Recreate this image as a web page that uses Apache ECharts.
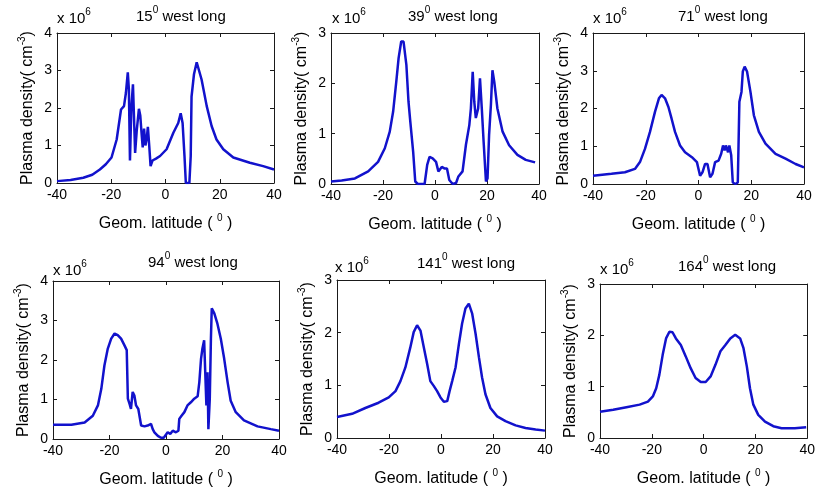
<!DOCTYPE html>
<html><head><meta charset="utf-8">
<script src="https://cdn.jsdelivr.net/npm/echarts@6/dist/echarts.min.js"></script>
<style>html,body{margin:0;padding:0;background:#fff}#c{width:818px;height:492px}</style>
</head><body><div id="c"></div>
<script>
// ---------- data ----------
const longitudes = ['15', '39', '71', '94', '141', '164'];
const xTicks = [-40, -20, 0, 20, 40];
const yTicks4 = [0, 1, 2, 3, 4];
const yTicks3 = [0, 1, 2, 3];

const lat1 = [-40, -35, -30.3, -27, -24.2, -22, -19.9, -18, -16.4, -15.3, -14.6, -13.9, -13.5, -13.1, -12.6, -12.0, -11.5, -11.2, -10.6, -9.8, -9.3, -8.8, -8.4, -7.9, -7.4, -6.9, -6.5, -6.0, -5.5, -4.8, -3.5, -2.0, 0.4, 2.9, 4.7, 5.6, 6.3, 7.0, 7.5, 8.8, 9.3, 9.6, 10.5, 11.5, 12.2, 13.3, 15.2, 17, 18.8, 21.3, 25, 31.1, 36, 40];
const dens1 = [0.05, 0.08, 0.14, 0.22, 0.36, 0.5, 0.68, 1.16, 1.96, 2.05, 2.4, 2.95, 2.5, 0.6, 2.0, 2.63, 1.5, 0.8, 1.4, 1.98, 1.8, 1.3, 0.95, 1.45, 1.0, 1.2, 1.5, 1.0, 0.45, 0.6, 0.65, 0.72, 0.9, 1.34, 1.6, 1.86, 1.6, 0.72, 0.0, 0.0, 0.72, 2.3, 2.9, 3.22, 3.2, 2.76, 2.05, 1.52, 1.16, 0.9, 0.68, 0.54, 0.45, 0.36];

const lat2 = [-40, -35.9, -30.8, -25.7, -21.9, -19.3, -17.4, -16.1, -14.9, -14, -13, -12.1, -11, -10.2, -9.5, -8.9, -8.4, -7.6, -6.6, -4, -3, -2.1, -0.9, 0.4, 1.3, 2.6, 3.6, 4.6, 5.5, 6.8, 8.1, 9, 10.6, 11.9, 13.2, 13.8, 14.5, 15.1, 15.7, 16.6, 17.3, 18, 18.7, 19.6, 20.2, 20.8, 21.5, 22.1, 22.8, 24, 26, 28.5, 31.7, 34.9, 38.5];
const dens2 = [0.05, 0.07, 0.11, 0.25, 0.44, 0.71, 1.04, 1.44, 2.03, 2.5, 2.83, 2.83, 2.36, 1.64, 1.24, 1.27, 0.64, 0.05, 0, 0, 0.38, 0.54, 0.51, 0.44, 0.25, 0.34, 0.31, 0.31, 0.08, 0, 0.02, 0.15, 0.25, 0.78, 1.17, 1.5, 2.23, 1.64, 1.31, 1.5, 2.1, 1.5, 0.84, 0.05, 0.11, 0.97, 1.57, 2.26, 2.03, 1.5, 1.04, 0.77, 0.58, 0.48, 0.43];

const lat3 = [-40, -33, -27.9, -24.1, -22.2, -20.3, -18.4, -16.5, -15, -14, -12.7, -11.4, -10.2, -8.9, -7, -5.1, -2.5, -0.6, 0.6, 1.5, 2.5, 3.4, 4.4, 5.3, 6.3, 7.6, 8.6, 9.3, 9.9, 10.4, 11.2, 11.7, 12.4, 13, 14, 14.9, 15.5, 16.3, 16.8, 17.5, 18.4, 19.7, 21, 22.9, 25.4, 29.2, 33, 36.8, 40];
const dens3 = [0.22, 0.27, 0.31, 0.4, 0.58, 0.93, 1.38, 1.91, 2.27, 2.36, 2.27, 2.04, 1.73, 1.38, 1.02, 0.84, 0.71, 0.58, 0.22, 0.31, 0.53, 0.53, 0.18, 0.27, 0.58, 0.62, 0.8, 1.02, 0.89, 1.02, 0.84, 1.02, 0.76, 0.04, 0, 0.04, 2.18, 2.44, 2.98, 3.11, 2.98, 2.44, 1.82, 1.38, 1.07, 0.8, 0.67, 0.53, 0.44];

const lat4 = [-40, -33.5, -28.8, -25.9, -24.1, -22.9, -21.8, -20.6, -19.4, -18.2, -17.1, -15.9, -14.7, -13.9, -13.5, -12.9, -12.4, -11.8, -11.2, -10.6, -9.8, -8.8, -7.6, -6.5, -5.3, -4.7, -4.1, -2.9, -1.8, -0.8, -0.4, 0.6, 1.5, 2.4, 3.5, 4.4, 4.7, 5.5, 6.5, 7.6, 8.8, 10, 11.2, 11.8, 12.4, 12.9, 13.5, 14.1, 14.3, 14.7, 15, 15.5, 15.9, 16.2, 17.1, 18.2, 19.4, 20.6, 21.8, 22.9, 24.7, 27.6, 32.4, 37.1, 40];
const dens4 = [0.36, 0.36, 0.42, 0.59, 0.85, 1.27, 1.86, 2.29, 2.54, 2.67, 2.63, 2.54, 2.37, 2.25, 1.02, 0.89, 0.76, 1.19, 1.1, 0.85, 0.76, 0.34, 0.32, 0.34, 0.38, 0.25, 0.17, 0.08, 0.03, 0.03, 0.08, 0.17, 0.13, 0.21, 0.17, 0.21, 0.51, 0.59, 0.68, 0.85, 0.93, 1.02, 1.08, 1.44, 2.03, 2.29, 2.5, 2.5, 0.85, 1.69, 0.25, 1.02, 2.54, 3.31, 3.18, 2.92, 2.54, 2.03, 1.44, 0.97, 0.68, 0.47, 0.32, 0.25, 0.21];

const lat5 = [-40, -34.2, -29.1, -24, -20.1, -17.5, -15.6, -13.7, -11.8, -10.5, -9.2, -7.9, -6.6, -5.3, -4.1, -2.8, -1.5, -0.2, 1.1, 2.4, 3.3, 4.3, 5.6, 6.9, 8.1, 9.4, 10.7, 12, 13.3, 14.6, 15.8, 17.1, 19, 21.6, 24.8, 28.7, 32.5, 36.4, 40];
const dens5 = [0.4, 0.46, 0.57, 0.67, 0.77, 0.89, 1.08, 1.34, 1.72, 2.01, 2.14, 2.04, 1.72, 1.4, 1.08, 0.99, 0.89, 0.77, 0.69, 0.7, 0.89, 1.08, 1.34, 1.79, 2.17, 2.46, 2.55, 2.36, 1.98, 1.53, 1.15, 0.83, 0.57, 0.41, 0.32, 0.24, 0.19, 0.16, 0.14];

const lat6 = [-40, -34.9, -29.8, -24.7, -21.5, -19.6, -18.3, -17.1, -15.8, -14.5, -13.2, -12, -10.7, -8.8, -6.9, -5, -3.1, -1.1, 0.8, 2.7, 4.6, 6.5, 8.4, 10.3, 12.2, 14.1, 15.4, 16.7, 17.9, 19.2, 21.1, 23.7, 26.9, 30.1, 35.2, 39.6];
const dens6 = [0.51, 0.55, 0.6, 0.65, 0.71, 0.81, 0.97, 1.23, 1.62, 1.94, 2.07, 2.06, 1.94, 1.81, 1.59, 1.36, 1.17, 1.09, 1.09, 1.2, 1.43, 1.69, 1.81, 1.94, 2.01, 1.94, 1.75, 1.39, 0.97, 0.65, 0.45, 0.32, 0.23, 0.19, 0.19, 0.21];

const lats = [lat1, lat2, lat3, lat4, lat5, lat6];
const denss = [dens1, dens2, dens3, dens4, dens5, dens6];
const yTickSets = [yTicks4, yTicks3, yTicks4, yTicks4, yTicks3, yTicks3];

// ---------- layout / style ----------
const FONT = '"Liberation Sans", Arial, Helvetica, sans-serif';
const grids = [
  {left: 57, top: 33, width: 217, height: 150},
  {left: 331, top: 33, width: 208, height: 151},
  {left: 593, top: 33, width: 211, height: 151},
  {left: 53, top: 281, width: 226, height: 158},
  {left: 337, top: 280, width: 208, height: 158},
  {left: 600, top: 284, width: 209, height: 154}
];
const titlePos = [[136, 7], [408, 7], [678, 7], [148, 253], [417, 254], [678, 257]];
const expPos = [[57, 9], [332, 9], [593, 9], [53, 261], [335, 258], [600, 260]];

function richSet(main) {
  return {
    m: {fontSize: main, lineHeight: main + 2, verticalAlign: 'bottom', fontFamily: FONT, fontWeight: 'normal', color: '#000'},
    s: {fontSize: 10, lineHeight: 10, padding: [0, 0, 9, 0], verticalAlign: 'bottom', fontFamily: FONT, fontWeight: 'normal', color: '#000'}
  };
}
const AX = '#1a1a1a';
const LINE = '#1212cc';

const option = {
  backgroundColor: '#ffffff',
  animation: false,
  title: [],
  grid: [],
  xAxis: [],
  yAxis: [],
  series: []
};

for (let i = 0; i < 6; i++) {
  const g = grids[i];
  option.grid.push(Object.assign({containLabel: false}, g));
  const yt = yTickSets[i];
  const xmin = xTicks[0], xmax = xTicks[xTicks.length - 1], xint = xTicks[1] - xTicks[0];
  const ymin = yt[0], ymax = yt[yt.length - 1], yint = yt[1] - yt[0];
  const tick = {show: true, inside: true, length: 4, lineStyle: {color: AX, width: 1}};
  const line = {show: true, onZero: false, lineStyle: {color: AX, width: 1}};
  option.xAxis.push({
    type: 'value', gridIndex: i, position: 'bottom', min: xmin, max: xmax, interval: xint,
    axisLine: line, axisTick: tick, splitLine: {show: false},
    axisLabel: {show: true, margin: 5, fontSize: 14, color: '#000', fontFamily: FONT},
    name: '{m|Geom. latitude ( }{s|0}{m| )}', nameLocation: 'middle', nameGap: 31,
    nameTextStyle: {fontWeight: 'normal', rich: richSet(16)}
  });
  option.xAxis.push({
    type: 'value', gridIndex: i, position: 'top', min: xmin, max: xmax, interval: xint,
    axisLine: line, axisTick: tick, splitLine: {show: false}, axisLabel: {show: false}
  });
  option.yAxis.push({
    type: 'value', gridIndex: i, position: 'left', min: ymin, max: ymax, interval: yint,
    axisLine: line, axisTick: tick, splitLine: {show: false},
    axisLabel: {show: true, margin: 5, fontSize: 14, color: '#000', fontFamily: FONT},
    name: '{m|Plasma density( cm}{s|-3}{m|)}', nameLocation: 'middle', nameGap: 21,
    nameTextStyle: {fontWeight: 'normal', rich: richSet(16)}
  });
  option.yAxis.push({
    type: 'value', gridIndex: i, position: 'right', min: ymin, max: ymax, interval: yint,
    axisLine: line, axisTick: tick, splitLine: {show: false}, axisLabel: {show: false}
  });
  option.title.push({
    text: '{m|' + longitudes[i] + '}{s|0}{m| west long}',
    left: titlePos[i][0], top: titlePos[i][1], padding: 0,
    textStyle: {fontWeight: 'normal', rich: richSet(15)}
  });
  option.title.push({
    text: '{m|x 10}{s|6}',
    left: expPos[i][0], top: expPos[i][1], padding: 0,
    textStyle: {fontWeight: 'normal', rich: richSet(15)}
  });
  option.series.push({
    type: 'line', xAxisIndex: 2 * i, yAxisIndex: 2 * i,
    data: lats[i].map((x, k) => [x, denss[i][k]]),
    showSymbol: false, symbol: 'none', smooth: false, clip: true,
    lineStyle: {color: LINE, width: 2.5}
  });
}

const chart = echarts.init(document.getElementById('c'), null, {renderer: 'canvas'});
chart.setOption(option);
</script>
</body></html>
